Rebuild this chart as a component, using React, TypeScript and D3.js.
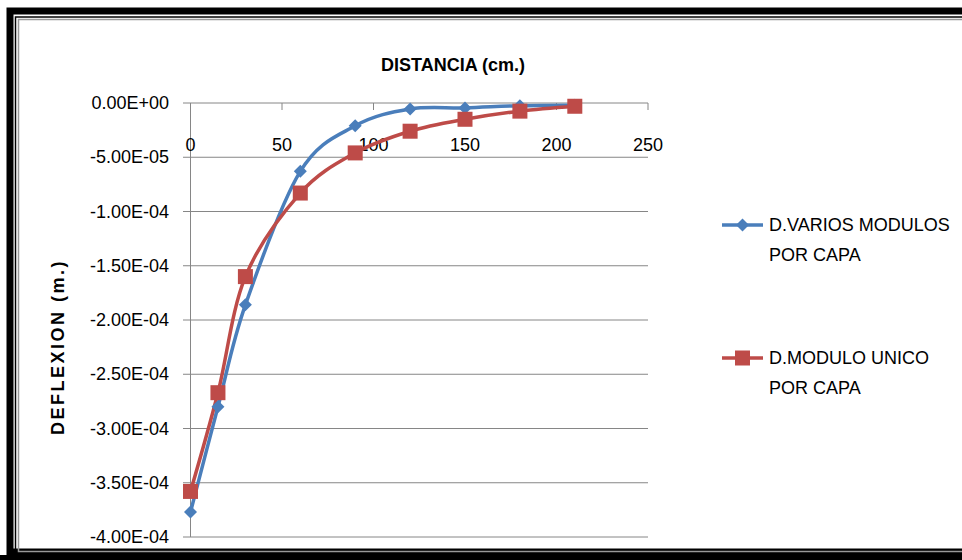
import React from "react";
import * as d3 from "d3";

const distances = [0, 15, 30, 60, 90, 120, 150, 180, 210];
const variosModulos = [-3.77e-4, -2.8e-4, -1.86e-4, -6.3e-5, -2.1e-5, -5.5e-6, -4.5e-6, -2.5e-6, -2.0e-6];
const moduloUnico = [-3.58e-4, -2.67e-4, -1.6e-4, -8.3e-5, -4.6e-5, -2.6e-5, -1.5e-5, -7.5e-6, -3.0e-6];
const xTicks = [0, 50, 100, 150, 200, 250];
const yTicks = [0, -5e-5, -1e-4, -1.5e-4, -2e-4, -2.5e-4, -3e-4, -3.5e-4, -4e-4];
const yTickLabels = ["0.00E+00", "-5.00E-05", "-1.00E-04", "-1.50E-04", "-2.00E-04", "-2.50E-04", "-3.00E-04", "-3.50E-04", "-4.00E-04"];
const seriesNames = [["D.VARIOS MODULOS", "POR CAPA"], ["D.MODULO UNICO", "POR CAPA"]];
const colors = ["#4a7ebb", "#be4b48"];

const W = 962, H = 560;
const FONT = "'Liberation Sans Narrow', 'Liberation Sans', Arial, sans-serif";

export default function App() {
  const x = d3.scaleLinear().domain([0, 250]).range([190.5, 648]);
  const y = d3.scaleLinear().domain([0, -4e-4]).range([103, 537]);
  const line = d3
    .line<number>()
    .x((_, i) => x(distances[i]))
    .y((d) => y(d))
    .curve(d3.curveCardinal.tension(0));
  const series = [variosModulos, moduloUnico];
  const diamond = (cx: number, cy: number, r: number) =>
    `M${cx},${cy - r}L${cx + r},${cy}L${cx},${cy + r}L${cx - r},${cy}Z`;

  return (
    <svg width={W} height={H} style={{ position: "absolute", left: 0, top: 0, background: "#fff" }} fontFamily={FONT}>
      {/* frame */}
      <rect x={10} y={11} width={1000} height={541} fill="none" stroke="#000" strokeWidth={7} />
      <rect x={15.5} y={17} width={1000} height={533} fill="none" stroke="#000" strokeWidth={1.5} />
      <rect x={18.5} y={19.5} width={1000} height={532} fill="none" stroke="#999" strokeWidth={1.5} />
      <rect x={0} y={555} width={W} height={5} fill="#000" />

      {/* gridlines */}
      {yTicks.map((t, i) => (
        <g key={i}>
          <line x1={183} x2={648} y1={y(t)} y2={y(t)} stroke="#868686" strokeWidth={1} />
          <text x={169} y={y(t)} textAnchor="end" dominantBaseline="central" fontSize={18} fill="#000">
            {yTickLabels[i]}
          </text>
        </g>
      ))}
      <line x1={x(0)} x2={x(0)} y1={103} y2={537} stroke="#868686" strokeWidth={1} />
      {xTicks.map((t) => (
        <g key={t}>
          <line x1={x(t)} x2={x(t)} y1={103} y2={110} stroke="#868686" strokeWidth={1} />
          <text x={x(t)} y={145} textAnchor="middle" dominantBaseline="central" fontSize={18} fill="#000">
            {t}
          </text>
        </g>
      ))}

      {/* series */}
      {series.map((s, si) => (
        <path key={si} d={line(s) || ""} fill="none" stroke={colors[si]} strokeWidth={3.5} strokeLinejoin="round" />
      ))}
      {variosModulos.map((v, i) => (
        <path key={"d" + i} d={diamond(x(distances[i]), y(v), 6.5)} fill={colors[0]} />
      ))}
      {moduloUnico.map((v, i) => (
        <rect key={"s" + i} x={x(distances[i]) - 7.5} y={y(v) - 7.5} width={15} height={15} fill={colors[1]} />
      ))}

      {/* titles */}
      <text x={453} y={65} textAnchor="middle" dominantBaseline="central" fontSize={18} fontWeight="bold">
        DISTANCIA (cm.)
      </text>
      <text transform="translate(58,347) rotate(-90)" textAnchor="middle" dominantBaseline="central" fontSize={18} fontWeight="bold" letterSpacing={2.5}>
        DEFLEXION (m.)
      </text>

      {/* legend */}
      {[0, 1].map((si) => {
        const ly = si === 0 ? 225 : 358;
        return (
          <g key={si}>
            <line x1={722} x2={763} y1={ly} y2={ly} stroke={colors[si]} strokeWidth={3.5} />
            {si === 0 ? (
              <path d={diamond(742.5, ly, 6.5)} fill={colors[0]} />
            ) : (
              <rect x={735} y={ly - 7.5} width={15} height={15} fill={colors[1]} />
            )}
            <text x={769} y={ly} dominantBaseline="central" fontSize={18}>
              {seriesNames[si][0]}
            </text>
            <text x={769} y={ly + 30} dominantBaseline="central" fontSize={18}>
              {seriesNames[si][1]}
            </text>
          </g>
        );
      })}
    </svg>
  );
}
